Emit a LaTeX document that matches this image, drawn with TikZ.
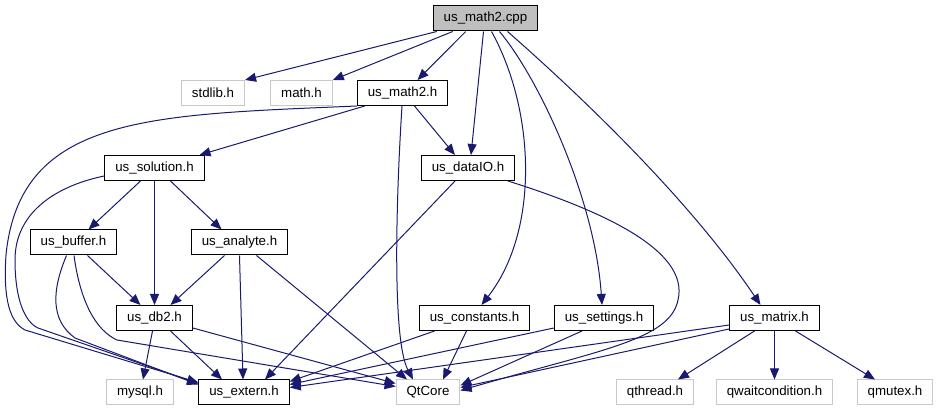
\documentclass[tikz,border=0pt]{standalone}
\usepackage{fontspec}
\setmainfont{Liberation Sans}
\usetikzlibrary{arrows.meta,positioning}
\definecolor{edgeblue}{RGB}{25,25,112}
\definecolor{boxgray}{RGB}{191,191,191}
\definecolor{sysgray}{RGB}{200,200,200}

\begin{document}
\begin{tikzpicture}[x=1pt,y=-1pt,
  incfile/.style={draw=black,line width=1pt,minimum height=25pt,inner xsep=10.5pt,inner ysep=0pt,
    font=\fontsize{13.3}{15}\selectfont},
  sysfile/.style={incfile,draw=sysgray},
  mainfile/.style={incfile,fill=boxgray},
  incarrow/.style={-{Triangle[length=11pt,width=9pt]},edgeblue,line width=1pt}
]
  \useasboundingbox (0,0) rectangle (938,411);
  % File nodes
  \node[mainfile] (mathcpp) at (485.5,18.5) {us\_math2.cpp};
  \node[sysfile] (stdlib) at (213,93) {stdlib.h};
  \node[sysfile] (mathh) at (301.5,93) {math.h};
  \node[incfile] (mathtwoh) at (402.5,93) {us\_math2.h};
  \node[incfile] (solution) at (154.5,168) {us\_solution.h};
  \node[incfile] (dataio) at (468,168) {us\_dataIO.h};
  \node[incfile] (buffer) at (73.5,242.5) {us\_buffer.h};
  \node[incfile] (analyte) at (239.5,242.5) {us\_analyte.h};
  \node[incfile] (dbtwo) at (154.5,318) {us\_db2.h};
  \node[incfile] (constants) at (474.5,318) {us\_constants.h};
  \node[incfile] (settings) at (604,318) {us\_settings.h};
  \node[incfile] (matrix) at (774.5,318) {us\_matrix.h};
  \node[sysfile] (mysql) at (140,392.5) {mysql.h};
  \node[incfile] (usextern) at (244,392.5) {us\_extern.h};
  \node[sysfile] (qtcore) at (428,392.5) {QtCore};
  \node[sysfile] (qthread) at (655,392.5) {qthread.h};
  \node[sysfile] (qwait) at (774.5,392.5) {qwaitcondition.h};
  \node[sysfile] (qmutex) at (895,392.5) {qmutex.h};
  % Includes of us_math2.cpp
  \draw[incarrow] ([xshift=4pt]mathcpp.south west) -- (stdlib.north east);
  \draw[incarrow] ([xshift=20pt]mathcpp.south west) -- (mathh.north east);
  \draw[incarrow] ([xshift=33pt]mathcpp.south west) -- ([xshift=15pt]mathtwoh.north);
  \draw[incarrow] ([xshift=-2pt]mathcpp.south) -- ([xshift=3pt]dataio.north);
  \draw[incarrow] ([xshift=6pt]mathcpp.south) .. controls (535,110) and (540,230) .. ([xshift=7pt]constants.north);
  \draw[incarrow] ([xshift=14pt]mathcpp.south) .. controls (540,80) and (595,200) .. ([xshift=-2pt]settings.north);
  \draw[incarrow] ([xshift=22pt]mathcpp.south) .. controls (580,95) and (690,200) .. ([xshift=-14pt]matrix.north);
  % Includes of us_math2.h
  \draw[incarrow] (mathtwoh.south west) .. controls (150,115) and (20,115) .. (6,255)
    .. controls (3,300) and (10,322) .. (25,330) -- ([yshift=-3pt]usextern.north west);
  \draw[incarrow] ([xshift=8pt]mathtwoh.south west) -- ([xshift=45pt]solution.north);
  \draw[incarrow] ([xshift=-0.5pt]mathtwoh.south) .. controls (396,200) and (392,340) .. ([xshift=-15pt]qtcore.north);
  \draw[incarrow] ([xshift=12pt]mathtwoh.south) -- ([xshift=-13pt]dataio.north);
  % Includes of us_solution.h
  \draw[incarrow] ([yshift=5pt]solution.south west) .. controls (60,185) and (15,210) .. (15,260)
    .. controls (15,300) and (25,322) .. (38,328) -- ([yshift=-4pt]usextern.north west);
  \draw[incarrow] ([xshift=-14pt]solution.south) -- ([xshift=15pt]buffer.north);
  \draw[incarrow] (solution.south) -- (dbtwo.north);
  \draw[incarrow] ([xshift=16pt]solution.south) -- ([xshift=-18pt]analyte.north);
  % Includes of us_buffer.h
  \draw[incarrow] ([xshift=14pt]buffer.south) -- ([xshift=-14pt]dbtwo.north);
  \draw[incarrow] ([xshift=-7pt]buffer.south) .. controls (52,290) and (50,320) .. (75,338) -- ([yshift=-5pt]usextern.north west);
  \draw[incarrow] ([xshift=0.5pt]buffer.south) .. controls (80,300) and (95,330) .. (117,340) -- ([yshift=-7pt]qtcore.north west);
  % Includes of us_analyte.h
  \draw[incarrow] ([xshift=-15pt]analyte.south) -- ([xshift=16pt]dbtwo.north);
  \draw[incarrow] (analyte.south) -- ([xshift=-1pt]usextern.north);
  \draw[incarrow] ([xshift=17pt]analyte.south) -- ([xshift=-21pt]qtcore.north);
  % Includes of us_db2.h
  \draw[incarrow] ([xshift=-2pt]dbtwo.south) -- ([xshift=3pt]mysql.north);
  \draw[incarrow] ([xshift=16pt]dbtwo.south) -- ([xshift=-22pt]usextern.north);
  \draw[incarrow] ([yshift=3pt]dbtwo.south east) -- ([yshift=-4pt]qtcore.north west);
  % Includes of us_dataIO.h
  \draw[incarrow] ([xshift=-13pt]dataio.south) -- ([xshift=21pt]usextern.north);
  \draw[incarrow] ([xshift=40pt]dataio.south) .. controls (600,210) and (690,250) .. (678,300)
    .. controls (670,340) and (600,350) .. ([yshift=-11pt]qtcore.north east);
  % Includes of us_constants.h and us_settings.h
  \draw[incarrow] ([xshift=-40pt]constants.south) -- ([yshift=-2pt]usextern.north east);
  \draw[incarrow] ([xshift=-8pt]constants.south) -- ([xshift=15pt]qtcore.north);
  \draw[incarrow] ([yshift=3pt]settings.south west) -- ([yshift=-5pt]usextern.north east);
  \draw[incarrow] ([xshift=-22pt]settings.south) -- ([yshift=-6pt]qtcore.north east);
  % Includes of us_matrix.h
  \draw[incarrow] ([yshift=6pt]matrix.south west) -- ([yshift=-8pt]usextern.north east);
  \draw[incarrow] ([yshift=2pt]matrix.south west) -- ([yshift=-8pt]qtcore.north east);
  \draw[incarrow] ([xshift=-20pt]matrix.south) -- ([xshift=23pt]qthread.north);
  \draw[incarrow] (matrix.south) -- (qwait.north);
  \draw[incarrow] ([xshift=21pt]matrix.south) -- ([xshift=-20pt]qmutex.north);
\end{tikzpicture}
\end{document}
